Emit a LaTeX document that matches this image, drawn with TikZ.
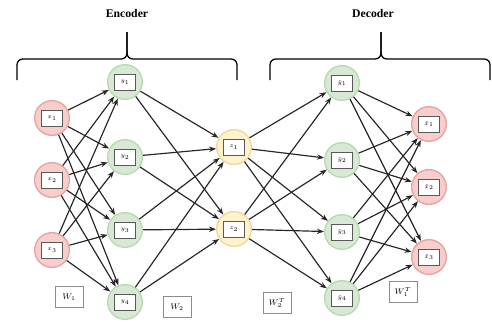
\documentclass[tikz,border=0pt]{standalone}
\usepackage{amsmath, amssymb}
\usepackage{fontspec}
\setmainfont{Liberation Serif}
\usepackage{tikz}
\usetikzlibrary{arrows.meta,positioning,calc}
\usepackage{xcolor}
\definecolor{rosaclaro}{RGB}{248,206,204}
\definecolor{rosaborda}{RGB}{232,165,163}
\definecolor{verdeclaro}{RGB}{215,233,212}
\definecolor{verdeborda}{RGB}{186,218,178}
\definecolor{amareloclaro}{RGB}{255,242,204}
\definecolor{amareloborda}{RGB}{238,218,158}

\begin{document}
\begin{tikzpicture}[x=0.03cm, y=-0.03cm,
        neuronio/.style={circle, line width=1.2pt, minimum size=1.04cm, inner sep=0pt},
        entrada/.style={neuronio, fill=rosaclaro, draw=rosaborda},
        oculta/.style={neuronio, fill=verdeclaro, draw=verdeborda},
        gargalo/.style={neuronio, fill=amareloclaro, draw=amareloborda},
        caixa/.style={draw=black!65, fill=white, line width=0.6pt, minimum width=0.63cm, minimum height=0.48cm, inner sep=0pt, font=\tiny},
        peso/.style={draw=black!45, line width=0.6pt, minimum width=0.84cm, minimum height=0.63cm, inner sep=0pt, font=\scriptsize},
        seta/.style={-{Stealth[length=6pt,width=4.5pt]}, line width=1pt, black!85},
        chave/.style={line width=1.1pt, rounded corners=5pt}
    ]
        \useasboundingbox (0,0) rectangle (492,325);

        % camadas
        \foreach \i/\yy in {1/118, 2/180, 3/250}
            {\node[entrada] (x\i) at (52,\yy) {};
             \node[caixa] (bx\i) at (x\i) {$x_{\i}$};}
        \foreach \i/\yy in {1/82, 2/157, 3/230, 4/302}
            {\node[oculta] (y\i) at (125,\yy) {};
             \node[caixa] (by\i) at (y\i) {$y_{\i}$};}
        \foreach \i/\yy in {1/147, 2/229}
            {\node[gargalo] (z\i) at (234,\yy) {};
             \node[caixa] (bz\i) at (z\i) {$z_{\i}$};}
        \foreach \i/\yy in {1/83, 2/160, 3/232, 4/298}
            {\node[oculta] (yh\i) at (342,\yy) {};
             \node[caixa] (byh\i) at (yh\i) {$\hat{y}_{\i}$};}
        \foreach \i/\yy in {1/124, 2/187, 3/257}
            {\node[entrada] (xh\i) at (429,\yy) {};
             \node[caixa] (bxh\i) at (xh\i) {$\hat{x}_{\i}$};}

        % ligacoes
        \foreach \i in {1,2,3} \foreach \j in {1,...,4} \draw[seta] (x\i) -- (y\j);
        \foreach \i in {1,...,4} \foreach \j in {1,2} \draw[seta] (y\i) -- (z\j);
        \foreach \i in {1,2} \foreach \j in {1,...,4} \draw[seta] (z\i) -- (yh\j);
        \foreach \i in {1,...,4} \foreach \j in {1,2,3} \draw[seta] (yh\i) -- (xh\j);

        % pesos
        \node[peso] (w1) at (69,297) {$W_1$};
        \node[peso] (w2) at (177,307) {$W_2$};
        \node[peso] (w2t) at (277,303) {$W_2^T$};
        \node[peso] (w1t) at (403,292) {$W_1^T$};

        % chaves
        \draw[chave] (17,80) -- (17,59) -- (127,59) -- (127,32);
        \draw[chave] (237,80) -- (237,59) -- (127,59) -- (127,32);
        \draw[chave] (270,80) -- (270,59) -- (381,59) -- (381,32);
        \draw[chave] (490,80) -- (490,59) -- (381,59) -- (381,32);
        \node[font=\bfseries] (enc) at (127,13) {Encoder};
        \node[font=\bfseries] (dec) at (373,13) {Decoder};

    \end{tikzpicture}
\end{document}
